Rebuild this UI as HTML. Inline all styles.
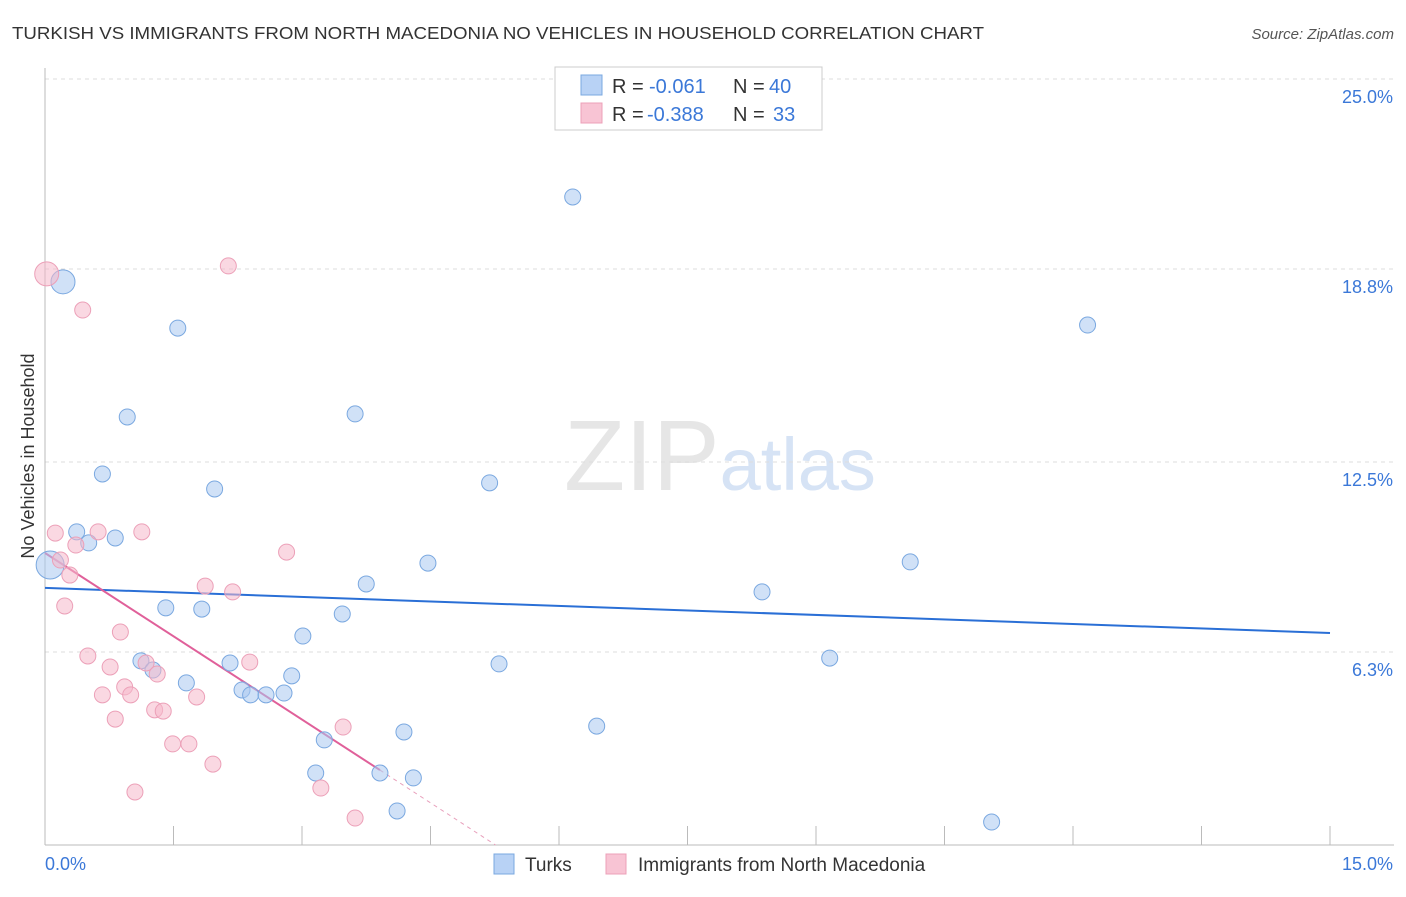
<!DOCTYPE html>
<html><head><meta charset="utf-8">
<style>
body{margin:0;background:#fff;font-family:"Liberation Sans",sans-serif;}
svg text{font-family:"Liberation Sans",sans-serif;}
</style></head>
<body>
<svg id="chart" width="1406" height="892" xmlns="http://www.w3.org/2000/svg">
<text x="12" y="39" font-size="17.5" fill="#333" textLength="972" lengthAdjust="spacingAndGlyphs">TURKISH VS IMMIGRANTS FROM NORTH MACEDONIA NO VEHICLES IN HOUSEHOLD CORRELATION CHART</text>
<text x="1394" y="39" font-size="15" fill="#555" text-anchor="end" font-style="italic">Source: ZipAtlas.com</text>
<text x="720" y="490" font-size="100" text-anchor="middle" fill="#e6e6e6" font-family="Liberation Serif"><tspan>ZIP</tspan><tspan fill="#d6e3f5" font-family="Liberation Sans" font-size="74">atlas</tspan></text>
<g id="grid"></g>
<g id="axes"></g>
<g id="trends"></g>
<g id="points"></g>
<text transform="translate(34,456) rotate(-90)" font-size="18" fill="#333" text-anchor="middle">No Vehicles in Household</text>
<g>
<rect x="555" y="67" width="267" height="63" fill="#fff" stroke="#ccc"/>
<rect x="581" y="75" width="21" height="20" fill="#b8d2f5" stroke="#7aa8e0"/>
<rect x="581" y="103" width="21" height="20" fill="#f8c4d4" stroke="#eca0b8"/>
<text x="612" y="93" font-size="20" fill="#333">R =</text>
<text x="649" y="93" font-size="20" fill="#3b78d8">-0.061</text>
<text x="733" y="93" font-size="20" fill="#333">N =</text>
<text x="769" y="93" font-size="20" fill="#3b78d8">40</text>
<text x="612" y="121" font-size="20" fill="#333">R =</text>
<text x="647" y="121" font-size="20" fill="#3b78d8">-0.388</text>
<text x="733" y="121" font-size="20" fill="#333">N =</text>
<text x="773" y="121" font-size="20" fill="#3b78d8">33</text>
</g>
<g>
<rect x="494" y="854" width="20" height="20" fill="#b8d2f5" stroke="#7aa8e0"/>
<text x="525" y="871" font-size="19" fill="#333">Turks</text>
<rect x="606" y="854" width="20" height="20" fill="#f8c4d4" stroke="#eca0b8"/>
<text x="638" y="871" font-size="19" fill="#333">Immigrants from North Macedonia</text>
</g>
</svg>
<script>
const turksX=[0.21,1.55,6.16,12.17,0.96,3.62,0.67,1.98,5.19,0.37,0.51,0.82,0.06,4.47,3.75,10.10,8.37,1.41,1.83,3.47,3.01,1.12,1.26,2.16,2.88,5.30,9.16,1.65,2.30,2.40,2.58,2.79,3.26,4.19,6.44,3.16,3.91,4.30,4.11,11.05];
const turksY=[18.38,16.87,21.15,16.97,13.97,14.07,12.11,11.62,11.82,10.22,9.86,10.02,9.14,9.20,8.52,9.24,8.26,7.74,7.70,7.54,6.82,6.01,5.71,5.94,5.52,5.91,6.10,5.29,5.06,4.90,4.90,4.96,3.43,3.69,3.88,2.35,2.35,2.19,1.11,0.75];
const turksR=[12,8,8,8,8,8,8,8,8,8,8,8,14,8,8,8,8,8,8,8,8,8,8,8,8,8,8,8,8,8,8,8,8,8,8,8,8,8,8,8];
const macX=[0.02,2.14,0.44,0.12,0.36,0.62,1.13,2.82,0.18,0.29,1.87,2.19,0.23,0.88,0.50,0.76,1.18,1.31,2.39,0.93,0.67,1.00,1.77,1.28,1.38,0.82,3.48,1.49,1.68,1.96,1.05,3.22,3.62];
const macY=[18.64,18.90,17.46,10.18,9.79,10.22,10.22,9.56,9.30,8.81,8.45,8.26,7.80,6.95,6.17,5.81,5.94,5.58,5.97,5.16,4.90,4.90,4.83,4.41,4.37,4.11,3.85,3.30,3.30,2.64,1.73,1.86,0.88];
const macR=[12,8,8,8,8,8,8,8,8,8,8,8,8,8,8,8,8,8,8,8,8,8,8,8,8,8,8,8,8,8,8,8,8];
const yTicks=[25.0,18.8,12.5,6.3];
const yTickLabels=["25.0%","18.8%","12.5%","6.3%"];
const xTickVals=[0,1.5,3,4.5,6,7.5,9,10.5,12,13.5,15];
const turksTrend=[8.39,6.92];
const macTrend=[9.53,-1.812,3.91];
const NS="http://www.w3.org/2000/svg";
const X=v=>45+v*1285/15, Y=v=>845-v*30.64;
function mk(tag,attrs,parent){const e=document.createElementNS(NS,tag);for(const k in attrs)e.setAttribute(k,attrs[k]);document.getElementById(parent).appendChild(e);return e;}
yTicks.forEach((t,i)=>{
 const l=mk('line',{x1:45,x2:1394,y1:Y(t),y2:Y(t),stroke:'#ddd','stroke-dasharray':'4,4'},'grid');
 
 
 const tx=mk('text',{x:1393,y:Y(t)+24,'font-size':18,fill:'#3b78d8','text-anchor':'end'},'grid');
 tx.textContent=yTickLabels[i];
 
 
});
mk('line',{x1:45,x2:45,y1:68,y2:845,stroke:'#bbb'},'axes');
mk('line',{x1:45,x2:1394,y1:845,y2:845,stroke:'#bbb'},'axes');
xTickVals.forEach(v=>{const t=mk('line',{x1:X(v),x2:X(v),y1:826,y2:845,stroke:'#bbb'},'axes');
 
 });
const x0=mk('text',{x:45,y:870,'font-size':18,fill:'#3b78d8'},'axes');x0.textContent='0.0%';


const x1=mk('text',{x:1393,y:870,'font-size':18,fill:'#3b78d8','text-anchor':'end'},'axes');x1.textContent='15.0%';


function pts(xs,ys,rs,fill,stroke,name){xs.forEach((x,i)=>{const c=mk('circle',{cx:X(x),cy:Y(ys[i]),r:rs[i],fill:fill,'fill-opacity':0.55,stroke:stroke,'stroke-width':1},'points');
 
 });}
pts(turksX,turksY,turksR,'#a9c8f0','#7aa8e0','turks-point');
pts(macX,macY,macR,'#f5b8cb','#eca0b8','macedonia-point');
const bl=mk('line',{x1:X(0),y1:Y(turksTrend[0]),x2:X(15),y2:Y(turksTrend[1]),stroke:'#2a6fd6','stroke-width':2},'trends');


const me=macTrend[2], mz=-macTrend[0]/macTrend[1];
const pl=mk('line',{x1:X(0),y1:Y(macTrend[0]),x2:X(me),y2:Y(macTrend[0]+macTrend[1]*me),stroke:'#e0609a','stroke-width':2},'trends');


const pd=mk('line',{x1:X(me),y1:Y(macTrend[0]+macTrend[1]*me),x2:X(mz),y2:Y(0),stroke:'#e8a0bc','stroke-width':1,'stroke-dasharray':'4,4'},'trends');


</script>
</body></html>
